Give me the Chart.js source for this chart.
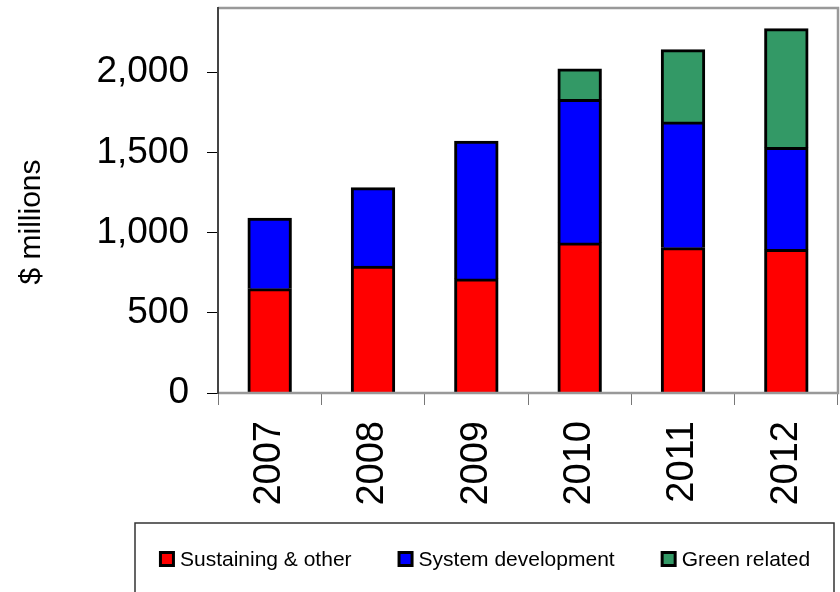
<!DOCTYPE html>
<html>
<head>
<meta charset="utf-8">
<script src="https://cdn.jsdelivr.net/npm/chart.js@4.4.0/dist/chart.umd.min.js"></script>
<style>
  html, body { margin: 0; padding: 0; background: #fff; }
</style>
</head>
<body>
<canvas id="spend-chart" width="840" height="592"></canvas>
<script>
// --- data ---
const years = ['2007', '2008', '2009', '2010', '2011', '2012'];
const sustaining = [650, 790, 710, 935, 905, 895];
const systemDev = [440, 490, 860, 895, 785, 635];
const greenRelated = [null, null, null, 190, 450, 740];
const yTicks = [0, 500, 1000, 1500, 2000];

const FONT = '"Liberation Sans", Arial, sans-serif';
Chart.defaults.font.family = FONT;
Chart.defaults.color = '#000';

// frame round the plot area (gray top/right/bottom, darker left axis)
const plotFrame = {
  id: 'plotFrame',
  afterDatasetsDraw(chart) {
    const { ctx, chartArea: a } = chart;
    ctx.save();
    ctx.strokeStyle = '#999';
    ctx.lineWidth = 2.5;
    ctx.beginPath();
    ctx.moveTo(a.left, a.top);
    ctx.lineTo(a.right, a.top);
    ctx.lineTo(a.right, a.bottom);
    ctx.lineTo(a.left, a.bottom);
    ctx.stroke();
    ctx.strokeStyle = '#444';
    ctx.lineWidth = 2;
    ctx.beginPath();
    ctx.moveTo(a.left, a.top - 1);
    ctx.lineTo(a.left, a.bottom + 1);
    ctx.stroke();
    ctx.restore();
  }
};

// y axis title, placed like the original (a bit below centre)
const yTitle = {
  id: 'yTitle',
  afterDraw(chart) {
    const ctx = chart.ctx;
    ctx.save();
    ctx.translate(32, 222);
    ctx.rotate(-Math.PI / 2);
    ctx.font = '30px ' + FONT;
    ctx.fillStyle = '#000';
    ctx.textAlign = 'center';
    ctx.textBaseline = 'middle';
    ctx.fillText('$ millions', 0, 0);
    ctx.restore();
  }
};

// boxed legend under the chart
const legendBox = {
  id: 'legendBox',
  afterDraw(chart) {
    const ctx = chart.ctx;
    const left = 135, right = 834, top = 523;
    ctx.save();
    ctx.strokeStyle = '#333';
    ctx.lineWidth = 1.5;
    ctx.strokeRect(left, top, right - left, 120);

    ctx.font = '21px ' + FONT;
    const items = chart.data.datasets.map(ds => ({
      label: ds.label,
      color: ds.backgroundColor,
      w: ctx.measureText(ds.label).width,
    }));
    const box = 16, gap = 5, spacing = 46;
    const total = items.reduce((s, it) => s + box + gap + it.w, 0) + spacing * (items.length - 1);
    let x = (left + right) / 2 - total / 2;
    const cy = 559;
    items.forEach(it => {
      ctx.fillStyle = '#000';
      ctx.fillRect(x, cy - box / 2, box, box);
      ctx.fillStyle = it.color;
      ctx.fillRect(x + 3, cy - box / 2 + 3, box - 6, box - 6);
      ctx.fillStyle = '#000';
      ctx.textAlign = 'left';
      ctx.textBaseline = 'middle';
      ctx.fillText(it.label, x + box + gap, cy + 1);
      x += box + gap + it.w + spacing;
    });
    ctx.restore();
  }
};

// inflateAmount lets the segments overlap a little, so no white seam shows between them
const barStyle = {
  borderColor: '#000',
  borderWidth: 3,
  inflateAmount: 0.5,
  barPercentage: 0.42,
  categoryPercentage: 1.0,
};

new Chart(document.getElementById('spend-chart'), {
  type: 'bar',
  data: {
    labels: years,
    datasets: [
      { label: 'Sustaining & other', data: sustaining, backgroundColor: '#ff0000', ...barStyle },
      { label: 'System development', data: systemDev, backgroundColor: '#0000ff', ...barStyle },
      { label: 'Green related', data: greenRelated, backgroundColor: '#339966', ...barStyle },
    ],
  },
  options: {
    responsive: false,
    animation: false,
    layout: { padding: { top: 8, right: 2, left: 0, bottom: 0 } },
    plugins: {
      legend: { display: false },
      tooltip: { enabled: false },
    },
    scales: {
      x: {
        stacked: true,
        grid: { drawOnChartArea: false, drawTicks: true, tickLength: 12, color: '#777', offset: true },
        border: { display: false },
        ticks: {
          autoSkip: false,
          minRotation: 90,
          maxRotation: 90,
          padding: 16,
          font: { size: 38 },
        },
        afterFit: s => {
          s.height = 199;
          s.paddingLeft = 0;
          s.paddingRight = 0;
        },
      },
      y: {
        stacked: true,
        min: 0,
        max: 2400,
        afterBuildTicks: s => { s.ticks = yTicks.map(v => ({ value: v })); },
        grid: { drawOnChartArea: false, drawTicks: true, tickLength: 11, color: '#000' },
        border: { display: false },
        ticks: {
          padding: 18,
          font: { size: 37 },
          callback: v => v.toLocaleString('en-US'),
        },
        afterFit: s => {
          s.width = 218;
          s.paddingTop = 0;
          s.paddingBottom = 0;
        },
      },
    },
  },
  plugins: [plotFrame, yTitle, legendBox],
});
</script>
</body>
</html>
